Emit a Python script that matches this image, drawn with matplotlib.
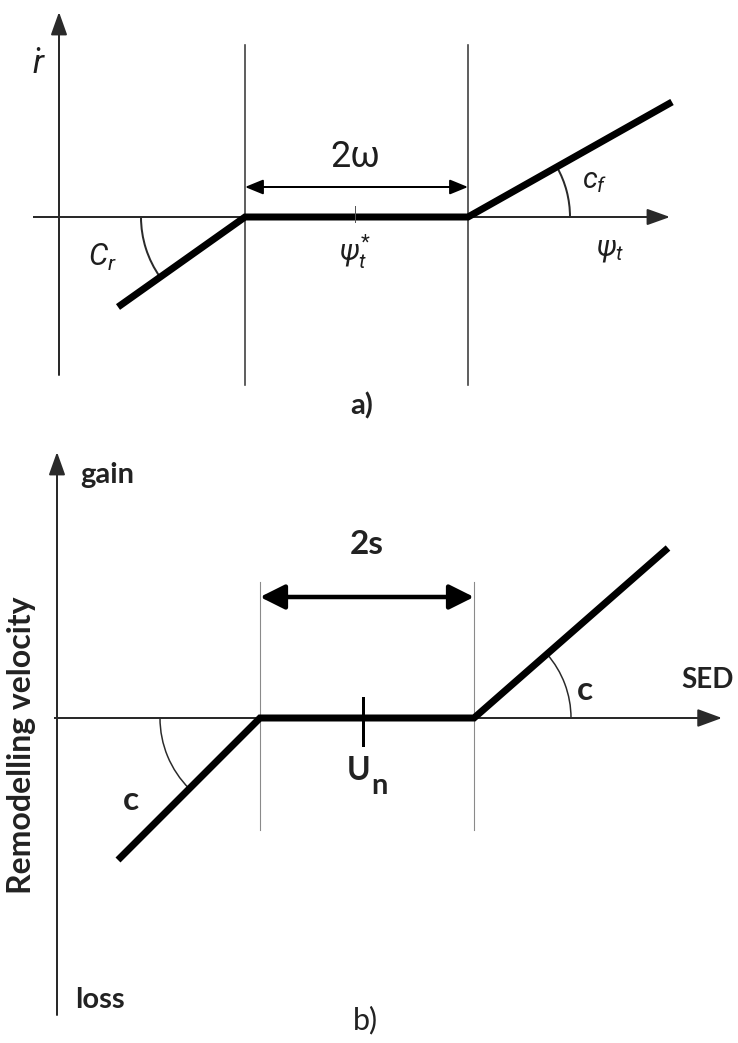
import matplotlib
matplotlib.use("Agg")
import matplotlib.pyplot as plt
from matplotlib.patches import Arc
import numpy as np

plt.rcParams['mathtext.fontset'] = 'custom'
plt.rcParams['mathtext.rm'] = 'Roboto'
plt.rcParams['mathtext.it'] = 'Roboto:italic'
plt.rcParams['mathtext.bf'] = 'Lato:bold'

W, H, DPI = 738, 1043, 100

# ---------------- data (schematic units, origin at axes crossing) ----------------
# Panel a
a_curve_x = [59, 186, 409, 613]
a_curve_y = [-90, 0, 0, 115]
a_band = [186, 409]          # dead zone edges (2*omega)
a_center = 296               # psi_t*
a_labels = {"width": "2ω", "center": r"$\psi_t^{*}$", "xaxis": r"$\psi_t$",
            "yaxis": r"$\dot{r}$", "left": r"$C_r$", "right": r"$c_f$", "panel": "a)"}
# Panel b
b_curve_x = [61, 203, 417, 611]
b_curve_y = [-142, 0, 0, 170]
b_band = [203, 417]
b_center = 306
b_labels = {"width": "2s", "center": "U", "center_sub": "n", "xaxis": "SED", "ytop": "gain",
            "ybottom": "loss", "ylabel": "Remodelling velocity", "left": "c", "right": "c",
            "panel": "b)"}

PX = 72.0 / DPI  # points per pixel

fig = plt.figure(figsize=(W / DPI, H / DPI), dpi=DPI)

def make_axes(top_px, bottom_px, ox, oy):
    ax = fig.add_axes([0, 1 - bottom_px / H, 1, (bottom_px - top_px) / H])
    ax.set_xlim(-ox, W - ox)
    ax.set_ylim(oy - bottom_px, oy - top_px)
    ax.axis("off")
    return ax

def arrow(ax, start, end, lw, color, hl, hw, both=False):
    style = "<|-|>" if both else "-|>"
    ax.annotate("", xy=end, xytext=start,
                arrowprops=dict(arrowstyle=f"{style},head_length={hl},head_width={hw}",
                                lw=lw, color=color, shrinkA=0, shrinkB=0,
                                mutation_scale=10))

def angle_arc(ax, cx, x0, y0, r, lw, color):
    """Arc between the x-axis and the line through (cx,0)-(x0,y0)."""
    ang = np.degrees(np.arctan2(y0, x0 - cx))
    if ang < 0:
        t1, t2 = 180, ang + 360
    else:
        t1, t2 = 0, ang
    ax.add_patch(Arc((cx, 0), 2 * r, 2 * r, theta1=t1, theta2=t2, lw=lw, color=color))

# ---------------- panel a ----------------
ax = make_axes(0, 430, 59, 217)
c_axis = "#2a2a2a"
thin = 2.0 * PX
arrow(ax, (0, -158), (0, 205), thin, c_axis, 1.4, 0.5)
ax.plot([-26, 600], [0, 0], color=c_axis, lw=thin, solid_capstyle="butt")
arrow(ax, (590, 0), (611, 0), thin, c_axis, 1.4, 0.5)
for xb in a_band:
    ax.plot([xb, xb], [172, -168], color="#3a3a3a", lw=1.6 * PX)
ax.plot(a_curve_x, a_curve_y, color="black", lw=7 * PX, solid_capstyle="butt",
        solid_joinstyle="miter")
arrow(ax, (a_band[0], 30), (a_band[1], 30), thin, "black", 1.1, 0.45, both=True)
ax.plot([a_center, a_center], [-5, 11], color="#555555", lw=1 * PX)
angle_arc(ax, a_curve_x[1], a_curve_x[0], a_curve_y[0], 104, thin, c_axis)
angle_arc(ax, a_curve_x[2], a_curve_x[3], a_curve_y[3], 102, thin, c_axis)
ta = dict(color="#1e1e1e", ha="center", va="center")
ax.text(a_center, 60, a_labels["width"], fontsize=26, family=["Roboto", "DejaVu Sans"],
        fontweight="normal", **ta)
ax.text(a_center, -35, a_labels["center"], fontsize=21, **ta)
ax.text(551, -33, a_labels["xaxis"], fontsize=21, **ta)
ax.text(-20, 152, a_labels["yaxis"], fontsize=24, **ta)
ax.text(43, -40, a_labels["left"], fontsize=22, **ta)
ax.text(536, 36, a_labels["right"], fontsize=21, **ta)
ax.text(303, -189, a_labels["panel"], fontsize=21, fontweight="bold",
        family=["Lato", "DejaVu Sans"], ha="center", va="center", color="#222222")

# ---------------- panel b ----------------
bx = make_axes(430, 1043, 57, 718)
arrow(bx, (0, -297), (0, 266), thin, c_axis, 1.4, 0.5)
bx.plot([-3, 650], [0, 0], color=c_axis, lw=thin, solid_capstyle="butt")
arrow(bx, (640, 0), (665, 0), thin, c_axis, 1.5, 0.55)
for xb in b_band:
    bx.plot([xb, xb], [136, -112], color="#8a8a8a", lw=1.1 * PX)
bx.plot(b_curve_x, b_curve_y, color="black", lw=7 * PX, solid_capstyle="butt",
        solid_joinstyle="miter")
arrow(bx, (b_band[0], 121), (b_band[1], 121), 4.5 * PX, "black", 1.5, 0.75, both=True)
bx.plot([b_center, b_center], [-27, 20], color="black", lw=3 * PX)
angle_arc(bx, b_curve_x[1], b_curve_x[0], b_curve_y[0], 100, 1.5 * PX, c_axis)
angle_arc(bx, b_curve_x[2], b_curve_x[3], b_curve_y[3], 97, 1.5 * PX, c_axis)
tb = dict(color="#222222", ha="center", va="center", fontweight="bold",
          family=["Lato", "DejaVu Sans"])
bx.text(310, 173, b_labels["width"], fontsize=24, **tb)
bx.text(302, -52, b_labels["center"], fontsize=23, **tb)
bx.text(322, -68, b_labels["center_sub"], fontsize=21, **tb)
bx.text(650, 38, b_labels["xaxis"], fontsize=20, **tb)
bx.text(50, 243, b_labels["ytop"], fontsize=21, **tb)
bx.text(43, -282, b_labels["ybottom"], fontsize=21, **tb)
bx.text(-35, -27, b_labels["ylabel"], fontsize=23, rotation=90, **tb)
bx.text(74, -82, b_labels["left"], fontsize=24, **tb)
bx.text(528, 28, b_labels["right"], fontsize=24, **tb)
bx.text(308, -302, b_labels["panel"], fontsize=22,
        **{k: v for k, v in tb.items() if k != "fontweight"})

fig.savefig("out.png", dpi=DPI, facecolor="white")
